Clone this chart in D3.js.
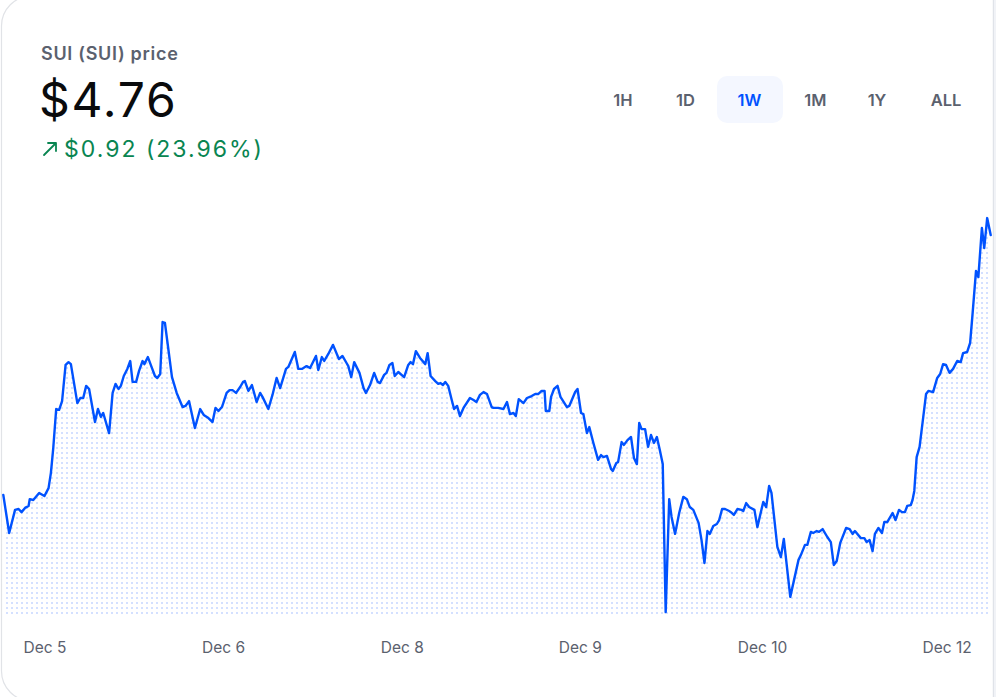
<!DOCTYPE html>
<html>
<head>
<meta charset="utf-8">
<script src="https://cdn.jsdelivr.net/npm/d3@7"></script>
<style>
  html, body { margin: 0; padding: 0; background: #ffffff; }
  svg { display: block; font-family: Inter, "Noto Sans", "Liberation Sans", sans-serif; }
</style>
</head>
<body>
<svg id="chart" width="996" height="697"></svg>
<script>
// ---- Data ----
const title = "SUI (SUI) price";
const currentPrice = "$4.76";
const changeText = "$0.92 (23.96%)";
const ranges = ["1H", "1D", "1W", "1M", "1Y", "ALL"];
const activeRange = "1W";

// hours since start of the 1W window
const hours = [0,1.0,2.0,2.6,3.1,3.7,4.3,4.5,5.1,6.1,7.0,7.7,8.1,8.5,9.0,9.5,10.0,10.6,11.1,11.5,12.6,13.1,13.6,14.1,14.6,15.6,16.1,16.6,17.0,18.0,18.6,19.1,19.6,20.0,20.5,21.1,21.6,22.0,22.6,23.1,23.7,24.0,24.6,25.3,25.8,26.2,26.7,27.1,27.5,28.1,28.7,29.5,30.5,31.0,31.6,32.6,33.5,34.1,34.9,35.6,36.1,36.6,37.2,38.0,38.5,39.0,39.6,40.3,40.8,41.1,41.7,42.3,43.1,43.7,44.1,45.1,45.8,46.5,47.1,48.1,48.5,49.6,50.2,50.8,51.6,52.2,53.2,53.6,54.2,54.6,55.3,56.1,57.1,57.7,58.4,58.7,59.2,59.7,60.6,61.3,61.7,62.4,63.1,63.7,64.1,64.8,65.2,65.7,66.2,66.6,67.2,68.2,68.9,69.3,69.7,70.2,70.9,71.8,72.2,72.7,73.5,74.0,74.4,74.8,75.2,75.7,76.3,76.7,77.2,77.7,78.3,79.4,80.0,80.5,81.1,81.7,82.3,83.1,83.4,84.2,85.1,85.7,86.2,86.8,87.2,87.7,88.5,89.1,89.9,90.5,91.0,91.6,92.1,92.3,92.9,93.2,93.7,94.3,94.8,95.9,96.3,97.3,97.7,98.3,98.7,99.3,99.7,100.4,101.2,101.7,102.1,102.7,103.4,103.7,104.3,104.6,105.2,105.6,106.2,106.8,107.3,107.8,108.2,108.6,109.2,109.7,110.2,110.7,111.2,111.7,112.2,112.7,113.3,113.7,114.3,115.0,115.7,116.3,116.8,117.4,118.3,118.8,119.3,119.8,120.2,120.8,121.4,121.8,122.3,122.8,123.5,123.8,124.3,124.9,125.6,125.9,126.4,126.9,127.8,128.3,129.3,129.8,130.3,130.7,131.7,132.3,132.8,133.9,135.3,135.7,136.4,136.8,137.4,137.8,138.4,138.8,139.4,140.2,140.8,141.3,141.8,142.4,143.4,144.0,144.5,144.9,145.9,146.5,146.9,147.4,147.9,148.3,148.9,149.5,149.9,150.4,151.3,151.8,152.4,152.9,153.4,153.8,154.4,154.7,155.0,155.4,155.9,157.0,157.4,158.2,158.9,159.4,159.9,160.4,161.0,161.6,162.3,162.9,163.3,164.0,164.5,164.9,165.5,165.9,166.5,166.9,167.4,168.0];

// SUI price in USD
const prices = [3.840,3.705,3.787,3.790,3.779,3.794,3.801,3.825,3.822,3.847,3.836,3.864,3.918,4.006,4.144,4.141,4.172,4.300,4.310,4.303,4.165,4.183,4.183,4.226,4.215,4.098,4.144,4.116,4.130,4.059,4.201,4.233,4.215,4.226,4.261,4.286,4.314,4.240,4.240,4.279,4.314,4.303,4.328,4.289,4.261,4.254,4.268,4.452,4.449,4.353,4.257,4.201,4.151,4.155,4.172,4.077,4.144,4.123,4.112,4.098,4.148,4.137,4.151,4.201,4.211,4.211,4.201,4.222,4.240,4.243,4.208,4.229,4.169,4.201,4.187,4.144,4.194,4.254,4.218,4.286,4.293,4.346,4.286,4.286,4.296,4.289,4.332,4.282,4.328,4.314,4.339,4.371,4.321,4.332,4.307,4.296,4.257,4.310,4.272,4.218,4.201,4.229,4.272,4.240,4.236,4.265,4.272,4.300,4.307,4.261,4.275,4.257,4.300,4.310,4.303,4.349,4.325,4.303,4.342,4.261,4.243,4.233,4.236,4.229,4.240,4.226,4.176,4.144,4.155,4.119,4.148,4.183,4.176,4.169,4.194,4.204,4.197,4.151,4.148,4.148,4.144,4.169,4.126,4.130,4.119,4.179,4.165,4.183,4.190,4.197,4.197,4.208,4.208,4.137,4.137,4.187,4.215,4.226,4.187,4.151,4.155,4.204,4.215,4.130,4.126,4.059,4.080,4.024,3.964,3.981,3.974,3.978,3.932,3.925,3.953,3.956,4.027,4.017,4.034,4.045,3.971,3.949,4.095,4.073,4.073,4.010,4.052,4.024,4.045,3.999,3.949,3.425,3.825,3.762,3.702,3.776,3.833,3.825,3.797,3.787,3.741,3.680,3.599,3.712,3.702,3.730,3.737,3.751,3.790,3.790,3.783,3.779,3.769,3.790,3.787,3.783,3.811,3.797,3.787,3.726,3.815,3.797,3.872,3.847,3.656,3.620,3.684,3.479,3.610,3.627,3.663,3.663,3.709,3.705,3.712,3.709,3.719,3.691,3.673,3.592,3.606,3.670,3.723,3.719,3.702,3.712,3.687,3.687,3.673,3.680,3.641,3.702,3.723,3.705,3.744,3.744,3.776,3.751,3.787,3.779,3.779,3.801,3.804,3.822,3.854,3.974,4.010,4.197,4.208,4.204,4.254,4.268,4.303,4.300,4.272,4.286,4.314,4.310,4.342,4.346,4.378,4.477,4.633,4.611,4.785,4.714,4.820,4.760];

const tickHours = [7.0, 37.4, 67.8, 98.1, 129.1, 160.5];
const tickLabels = ["Dec 5", "Dec 6", "Dec 8", "Dec 9", "Dec 10", "Dec 12"];

// ---- Drawing ----
const svg = d3.select("#chart");
const W = 996, H = 697;

// card
const card = d3.path();
const cardR = 30, cardTop = -4, cardBottom = 701, cardLeft = 1.5;
card.moveTo(993, cardTop);
card.lineTo(cardLeft + cardR, cardTop);
card.arcTo(cardLeft, cardTop, cardLeft, cardTop + cardR, cardR);
card.lineTo(cardLeft, cardBottom - cardR);
card.arcTo(cardLeft, cardBottom, cardLeft + cardR, cardBottom, cardR);
card.lineTo(993, cardBottom);
svg.append("path").attr("d", card.toString())
  .attr("fill", "#ffffff").attr("stroke", "#e1e3e7").attr("stroke-width", 1.2);
svg.append("rect").attr("x", 993).attr("y", 0).attr("width", 3).attr("height", H).attr("fill", "#f1f3f7");
svg.append("line").attr("x1", 993.3).attr("x2", 993.3).attr("y1", 0).attr("y2", H)
  .attr("stroke", "#dcdfe5").attr("stroke-width", 1);

// header
svg.append("text").attr("x", 41).attr("y", 60)
  .attr("font-size", 18).attr("font-weight", 600).attr("fill", "#5b616e")
  .attr("letter-spacing", 0.7).text(title);
svg.append("text").attr("x", 39).attr("y", 117)
  .attr("font-size", 48).attr("font-weight", 400).attr("fill", "#0a0b0d")
  .attr("letter-spacing", 1.8).text(currentPrice);

const green = "#098551";
svg.append("path").attr("d", "M44,155 L56,143 M48,143 L56,143 L56,151")
  .attr("fill", "none").attr("stroke", green).attr("stroke-width", 1.8)
  .attr("stroke-linecap", "round").attr("stroke-linejoin", "round");
svg.append("text").attr("x", 64).attr("y", 157)
  .attr("font-size", 23).attr("font-weight", 400).attr("fill", green)
  .attr("letter-spacing", 2.0).text(changeText);

// range buttons
const btnCenters = [623, 685.5, 749.5, 815.3, 877, 946];
svg.append("rect").attr("x", 717).attr("y", 76).attr("width", 66).attr("height", 47)
  .attr("rx", 10).attr("fill", "#f4f7ff");
svg.selectAll("text.rng").data(ranges).join("text").attr("class", "rng")
  .attr("x", (d, i) => btnCenters[i]).attr("y", 106)
  .attr("text-anchor", "middle").attr("font-size", 16.5).attr("font-weight", 600)
  .attr("fill", d => d === activeRange ? "#0052ff" : "#5b616e").text(d => d);

// scales
const x = d3.scaleLinear().domain([0, 168]).range([3.3, 990.7]);
const y = d3.scaleLinear().domain([3.40, 4.85]).range([619.2, 209.6]);
const baseY = 614;

const data = hours.map((h, i) => ({ h, p: prices[i] }));

// dotted fill pattern
const defs = svg.append("defs");
const pat = defs.append("pattern").attr("id", "dots").attr("patternUnits", "userSpaceOnUse")
  .attr("width", 5).attr("height", 5);
pat.append("rect").attr("x", 1).attr("y", 2).attr("width", 2).attr("height", 2).attr("fill", "#d4e0ff");

const area = d3.area().x(d => x(d.h)).y0(baseY).y1(d => y(d.p)).curve(d3.curveLinear);
svg.append("path").datum(data).attr("d", area).attr("fill", "url(#dots)");

const line = d3.line().x(d => x(d.h)).y(d => y(d.p)).curve(d3.curveLinear);
svg.append("path").datum(data).attr("d", line)
  .attr("fill", "none").attr("stroke", "#0052ff").attr("stroke-width", 2.4)
  .attr("stroke-linejoin", "round").attr("stroke-linecap", "round");

// x axis
const axis = d3.axisBottom(x).tickValues(tickHours)
  .tickFormat((d, i) => tickLabels[i]).tickSize(0).tickPadding(3);
const gx = svg.append("g").attr("transform", "translate(0,639)").call(axis);
gx.select(".domain").remove();
gx.selectAll("text").attr("font-family", "Inter, 'Noto Sans', sans-serif")
  .attr("font-size", 15.5).attr("fill", "#5b616e");
</script>
</body>
</html>
